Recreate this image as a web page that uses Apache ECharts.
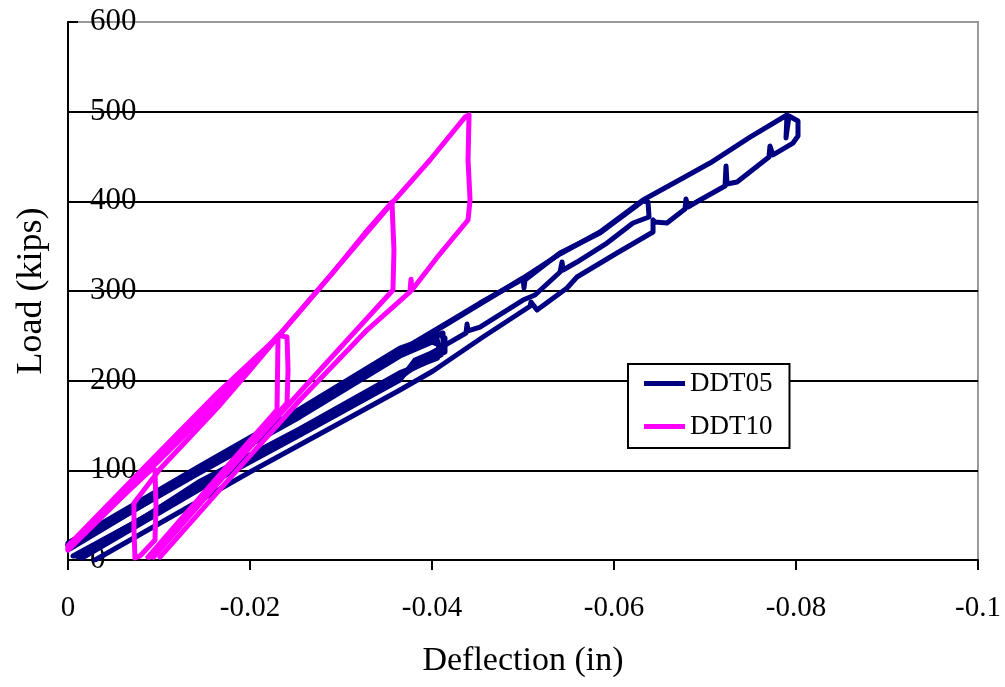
<!DOCTYPE html>
<html>
<head>
<meta charset="utf-8">
<script src="https://cdn.jsdelivr.net/npm/echarts@6/dist/echarts.min.js"></script>
<style>html,body{margin:0;padding:0;background:#fff}#chart{width:1005px;height:687px}</style>
</head>
<body>
<div id="chart"></div>
<script>
// Axis ticks
const xTicks = [0, -0.02, -0.04, -0.06, -0.08, -0.1];
const yTicks = [0, 100, 200, 300, 400, 500, 600];
const seriesNames = ['DDT05', 'DDT10'];

// DDT05 [deflection (in), load (kips)] - cycles
const ddt05_cycle250a = [[0,16.7],[-0.01451,102.6],[-0.02549,165.0],[-0.03648,234.2],[-0.04088,250.9],[-0.04143,247.6],[-0.04143,231.9],[-0.03868,223.0],[-0.03571,198.5],[-0.02473,138.8],[-0.01451,81.4],[-0.00055,4.5]];
const ddt05_cycle250b = [[-0.00022,12.3],[-0.01451,99.3],[-0.02549,161.7],[-0.03648,229.7],[-0.04055,246.5],[-0.04099,228.6],[-0.03648,206.3],[-0.02549,143.9],[-0.01451,85.9],[-0.0011,3.3]];
const ddt05_cycle250c = [[0,19.0],[-0.01451,104.8],[-0.02549,168.4],[-0.03648,236.4],[-0.04121,253.2],[-0.04121,236.4],[-0.03813,223.0],[-0.03648,200.7],[-0.02549,139.4],[-0.01451,79.2],[-0.00154,2.2]];
const ddt05_cycle250d = [[-0.00011,14.0],[-0.01451,97.5],[-0.02549,159.5],[-0.03648,227.5],[-0.04000,243.0],[-0.04080,240.0],[-0.04060,225.0],[-0.03648,209.0],[-0.02549,146.5],[-0.01451,88.0],[-0.0020,5.5]];
const ddt05_cycle400 = [[0,15.6],[-0.01451,100.4],[-0.02549,163.9],[-0.03648,233.1],[-0.04165,264.3],[-0.04527,286.6],[-0.05,313.4],[-0.05011,303.3],[-0.05022,312.3],[-0.05407,342.4],[-0.05846,364.7],[-0.06319,400.4],[-0.06374,399.2],[-0.06385,382.5],[-0.06209,375.8],[-0.05923,353.5],[-0.05593,332.3],[-0.0544,323.4],[-0.05429,332.3],[-0.05407,321.2],[-0.05132,295.5],[-0.05,289.9],[-0.04527,259.8],[-0.04396,255.4],[-0.04385,263.2],[-0.04374,253.2],[-0.04011,231.9],[-0.03648,203.0],[-0.02549,141.6],[-0.01451,82.5],[-0.00077,4.5]];
const ddt05_cycle500 = [[0,16.7],[-0.01451,101.5],[-0.02549,162.8],[-0.03648,231.9],[-0.04165,263.2],[-0.04527,285.5],[-0.05,314.5],[-0.05407,341.3],[-0.05846,365.8],[-0.06319,401.5],[-0.06758,426.0],[-0.07055,442.7],[-0.07495,471.7],[-0.07901,496.3],[-0.0789,470.6],[-0.07923,495.1],[-0.08022,489.6],[-0.08022,472.8],[-0.07967,465.0],[-0.07747,451.7],[-0.07714,461.7],[-0.07703,449.5],[-0.07352,421.5],[-0.07242,419.3],[-0.07231,439.4],[-0.0722,417.1],[-0.06945,401.5],[-0.06813,393.7],[-0.06791,402.6],[-0.0678,391.4],[-0.06582,375.8],[-0.06451,376.9],[-0.06429,379.2],[-0.06429,365.8],[-0.06033,342.4],[-0.05593,315.6],[-0.05484,303.3],[-0.05154,278.8],[-0.05088,287.7],[-0.05077,283.0],[-0.0456,248.7],[-0.04011,210.8],[-0.03648,189.6],[-0.02846,145.0],[-0.02,98.1],[-0.00297,0]];

// DDT10 [deflection (in), load (kips)]
const ddt10_cycle100 = [[0,13.4],[-0.00462,58.0],[-0.00923,101.5],[-0.00956,100.4],[-0.00967,61.3],[-0.00956,22.3],[-0.00791,4.5],[-0.00736,2.2],[-0.00725,33.5],[-0.00725,63.6],[-0.01011,101.5],[-0.0167,172.9],[-0.02,211.9],[-0.02308,248.7],[-0.02297,167.3],[-0.0156,82.5],[-0.00879,3.3]];
const ddt10_cycle250 = [[0,11.0],[-0.00940,104.8],[-0.0170,181.0],[-0.02308,250.5],[-0.02407,248.7],[-0.02418,211.9],[-0.02407,175.1],[-0.0167,89.2],[-0.00901,3.3]];
const ddt10_cycle400 = [[0,16.0],[-0.00870,106.5],[-0.0164,186.0],[-0.02290,247.6],[-0.02549,277.7],[-0.02934,323.4],[-0.03264,364.7],[-0.0356,399.2],[-0.03582,345.7],[-0.03571,301.1],[-0.03099,248.7],[-0.02549,187.4],[-0.01725,94.8],[-0.00940,3.3]];
const ddt10_cycle500 = [[0,12.3],[-0.00901,103.7],[-0.0168,182.5],[-0.02308,248.7],[-0.0356,398.1],[-0.03978,446.1],[-0.04363,494.0],[-0.04407,496.3],[-0.04396,446.1],[-0.04418,401.5],[-0.04396,379.2],[-0.04088,341.5],[-0.03780,301.1],[-0.03769,313.0],[-0.03758,299.0],[-0.03286,256.5],[-0.02549,178.4],[-0.0178,91.4],[-0.01011,3.3]];

const ddt05Cycles = [ddt05_cycle250a, ddt05_cycle250b, ddt05_cycle250c, ddt05_cycle250d, ddt05_cycle400, ddt05_cycle500];
const ddt10Cycles = [ddt10_cycle100, ddt10_cycle250, ddt10_cycle400, ddt10_cycle500];
const colors = {DDT05: '#000080', DDT10: '#FF00FF'};

const FONT = 'Liberation Serif';
function mk(name, data) {
  return {
    name: name, type: 'line', data: data, showSymbol: false, symbol: 'none',
    animation: false, silent: true,
    lineStyle: {color: colors[name], width: 5, cap: 'round', join: 'round'},
    itemStyle: {color: colors[name]}
  };
}
const series = [];
ddt05Cycles.forEach(d => series.push(mk('DDT05', d)));
ddt10Cycles.forEach(d => series.push(mk('DDT10', d)));

const chart = echarts.init(document.getElementById('chart'), null, {renderer: 'canvas'});
chart.setOption({
  animation: false,
  backgroundColor: '#fff',
  grid: {left: 68, right: 27, top: 22, bottom: 127, show: true, borderColor: '#999', borderWidth: 2, backgroundColor: 'transparent'},
  legend: {
    data: seriesNames, orient: 'vertical', left: 628, top: 364,
    backgroundColor: '#fff', borderColor: '#000', borderWidth: 2,
    padding: [6, 17, 8, 16], itemGap: 16, itemWidth: 41, itemHeight: 5, icon: 'rect',
    textStyle: {fontFamily: FONT, fontSize: 27, color: '#000'}
  },
  xAxis: {
    type: 'value', min: xTicks[xTicks.length - 1], max: xTicks[0], interval: 0.02, inverse: true,
    name: 'Deflection (in)', nameLocation: 'middle', nameGap: 84,
    nameTextStyle: {fontFamily: FONT, fontSize: 34, color: '#000'},
    axisLine: {show: true, onZero: false, lineStyle: {color: '#000', width: 2}},
    axisTick: {show: true, inside: false, length: 10, lineStyle: {color: '#000', width: 2}},
    axisLabel: {margin: 34, fontFamily: FONT, fontSize: 29, color: '#000',
      formatter: v => (Math.abs(v) < 1e-9 ? '0' : String(+v.toFixed(2)))},
    splitLine: {show: false}
  },
  yAxis: {
    type: 'value', min: yTicks[0], max: yTicks[yTicks.length - 1], interval: 100,
    name: 'Load (kips)', nameLocation: 'middle', nameGap: 18, nameRotate: 90,
    nameTextStyle: {fontFamily: FONT, fontSize: 36, color: '#000'},
    axisLine: {show: true, lineStyle: {color: '#000', width: 2}},
    axisTick: {show: true, inside: true, length: 10, lineStyle: {color: '#000', width: 2}},
    axisLabel: {inside: true, margin: 22, fontFamily: FONT, fontSize: 31, color: '#000'},
    splitLine: {show: true, lineStyle: {color: ['#000', '#000', '#000', '#000', '#000', '#000', '#999'], width: 2}}
  },
  series: series
});
</script>
</body>
</html>
